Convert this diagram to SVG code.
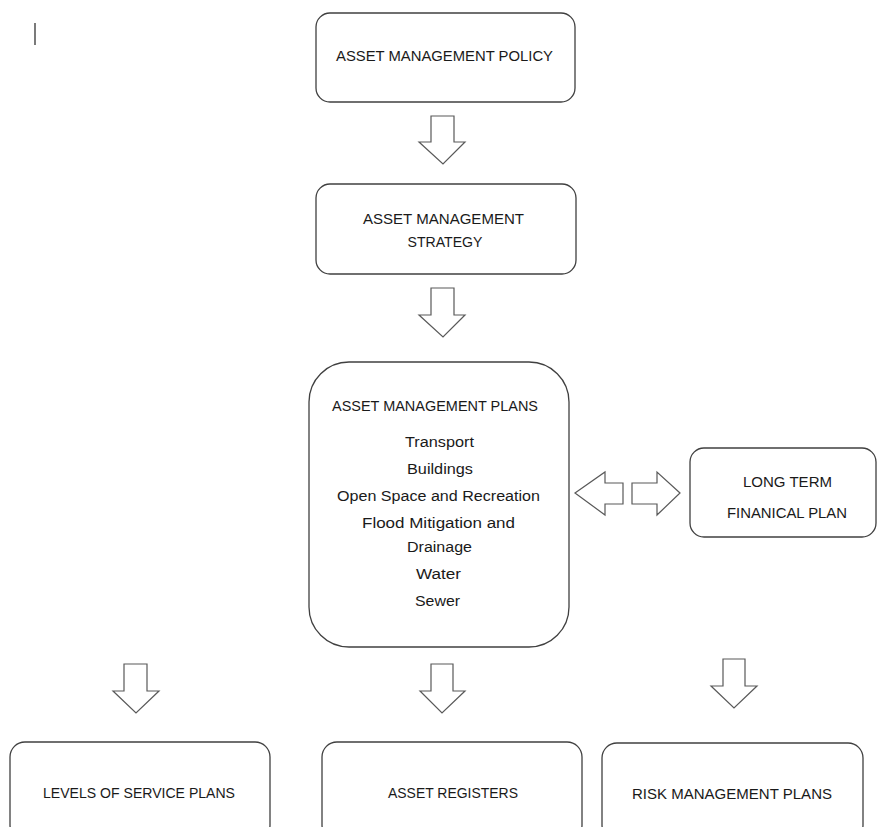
<svg xmlns="http://www.w3.org/2000/svg" width="877" height="827" viewBox="0 0 877 827">
<style>
.box{fill:#fff;stroke:#404040;stroke-width:1.3}
.arr{fill:#fff;stroke:#595959;stroke-width:1.2;stroke-linejoin:miter}
text{font-family:"Liberation Sans",Arial,sans-serif;font-size:15.5px;fill:#1a1a1a;text-anchor:middle}
</style>
<rect width="877" height="827" fill="#fff"/>
<line x1="35" y1="23" x2="35" y2="45" stroke="#333" stroke-width="1.3"/>
<g id="policy">
<rect class="box" x="316" y="13" width="259" height="89" rx="14"/>
<text x="444.5" y="61" textLength="217" lengthAdjust="spacingAndGlyphs">ASSET MANAGEMENT POLICY</text>
</g>
<g id="strategy">
<rect class="box" x="316" y="184" width="260" height="90" rx="14"/>
<text x="443.5" y="224" textLength="161" lengthAdjust="spacingAndGlyphs">ASSET MANAGEMENT</text>
<text x="445" y="247" textLength="75" lengthAdjust="spacingAndGlyphs">STRATEGY</text>
</g>
<g id="plans">
<rect class="box" x="309" y="362" width="260" height="285" rx="40"/>
<text x="435" y="411" textLength="206" lengthAdjust="spacingAndGlyphs">ASSET MANAGEMENT PLANS</text>
<text x="439.5" y="447" textLength="69" lengthAdjust="spacingAndGlyphs">Transport</text>
<text x="440" y="474" textLength="66" lengthAdjust="spacingAndGlyphs">Buildings</text>
<text x="438.5" y="501" textLength="203" lengthAdjust="spacingAndGlyphs">Open Space and Recreation</text>
<text x="438.5" y="528" textLength="153" lengthAdjust="spacingAndGlyphs">Flood Mitigation and</text>
<text x="439.5" y="552" textLength="65" lengthAdjust="spacingAndGlyphs">Drainage</text>
<text x="438.5" y="579" textLength="45" lengthAdjust="spacingAndGlyphs">Water</text>
<text x="437.5" y="606" textLength="45" lengthAdjust="spacingAndGlyphs">Sewer</text>
</g>
<g id="ltfp">
<rect class="box" x="690" y="448" width="186" height="89" rx="14"/>
<text x="787.5" y="487" textLength="89" lengthAdjust="spacingAndGlyphs">LONG TERM</text>
<text x="787" y="518" textLength="120" lengthAdjust="spacingAndGlyphs">FINANICAL PLAN</text>
</g>
<g id="los">
<rect class="box" x="10" y="742" width="260" height="98" rx="15"/>
<text x="139" y="798" textLength="192" lengthAdjust="spacingAndGlyphs">LEVELS OF SERVICE PLANS</text>
</g>
<g id="registers">
<rect class="box" x="322" y="742" width="260" height="98" rx="15"/>
<text x="453" y="798" textLength="130" lengthAdjust="spacingAndGlyphs">ASSET REGISTERS</text>
</g>
<g id="risk">
<rect class="box" x="602" y="743" width="261" height="97" rx="15"/>
<text x="732" y="799" textLength="200" lengthAdjust="spacingAndGlyphs">RISK MANAGEMENT PLANS</text>
</g>
<g id="connectors">
<polygon class="arr" points="431,116 454,116 454,142 465,142 443,164 419,142 431,142"/>
<polygon class="arr" points="431,288 454,288 454,315 465,315 443,337 419,315 431,315"/>
<polygon class="arr" points="575,493 605,472 605,483 623,483 623,504 605,504 605,515"/>
<polygon class="arr" points="680,493 657,472 657,483 632,483 632,504 657,504 657,515"/>
<polygon class="arr" points="124,664 147,664 147,691 159,691 136,713 113,691 124,691"/>
<polygon class="arr" points="431,664 453,664 453,691 465,691 442,713 420,691 431,691"/>
<polygon class="arr" points="723,659 745,659 745,686 757,686 734,708 711,686 723,686"/>
</g>
</svg>
